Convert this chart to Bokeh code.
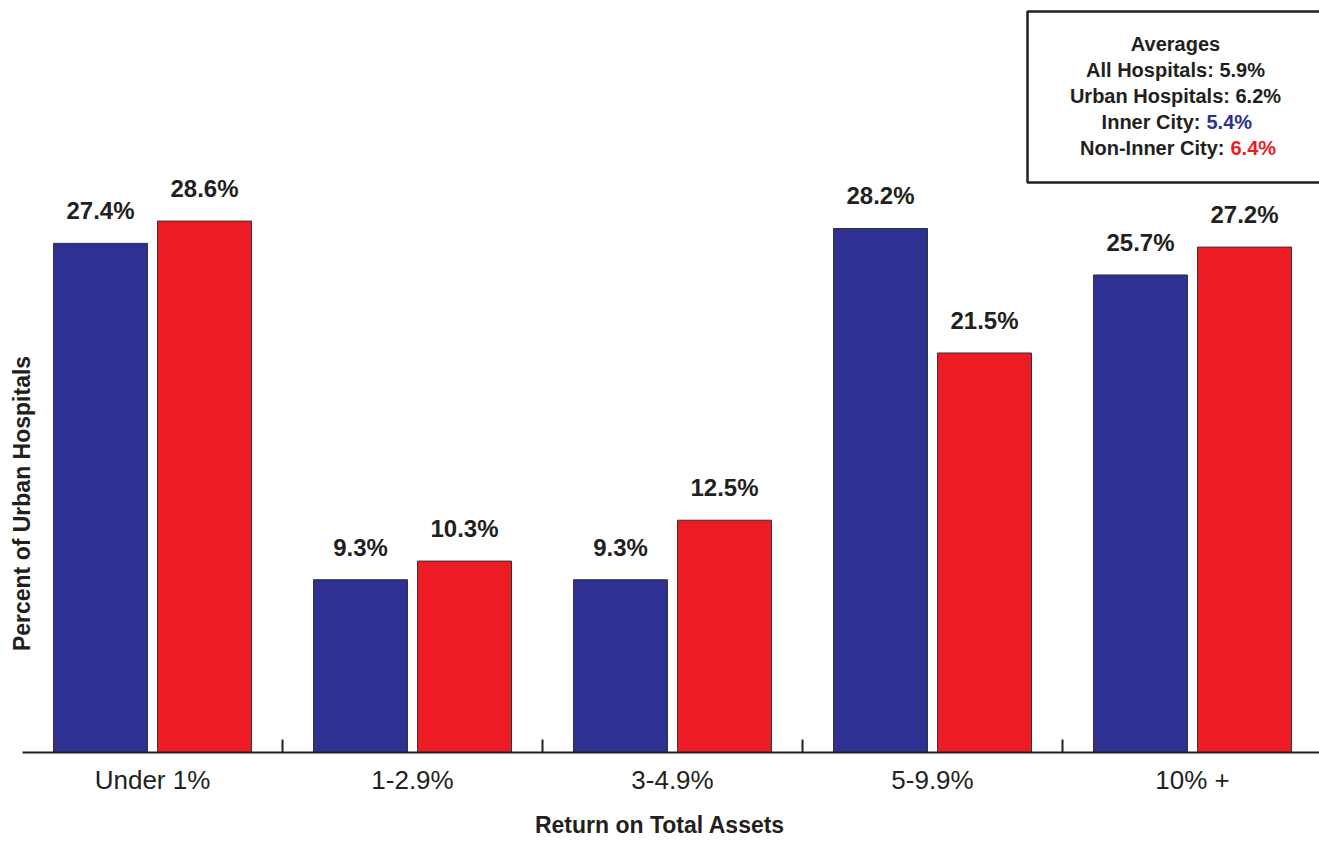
import numpy as np
from bokeh.plotting import figure
from bokeh.models import (ColumnDataSource, Range1d, FixedTicker, LabelSet, Label)
from bokeh.core.properties import value
from bokeh.embed import file_html
from bokeh.resources import INLINE

categories = ["Under 1%", "1-2.9%", "3-4.9%", "5-9.9%", "10% +"]
inner_city = [27.4, 9.3, 9.3, 28.2, 25.7]
non_inner_city = [28.6, 10.3, 12.5, 21.5, 27.2]
avg_title = "Averages"
avg_all = "All Hospitals: 5.9%"
avg_urban = "Urban Hospitals: 6.2%"
avg_inner = ("Inner City:", "5.4%")
avg_non_inner = ("Non-Inner City:", "6.4%")

BLUE = "#2E3192"
RED = "#ED1C24"
INK = "#231F20"
FONT = "Liberation Sans"

X_END = 1297 / 260.0
idx = np.arange(len(categories))
src_b = ColumnDataSource(dict(x=idx + 0.5 - 0.2, top=inner_city,
                              lab=[f"{v:.1f}%" for v in inner_city]))
src_r = ColumnDataSource(dict(x=idx + 0.5 + 0.2, top=non_inner_city,
                              lab=[f"{v:.1f}%" for v in non_inner_city]))

p = figure(width=1319, height=842, output_backend="svg", toolbar_location=None,
           x_range=Range1d(-22 / 260.0, X_END), y_range=Range1d(0, 40.47),
           min_border_left=0, min_border_right=0, min_border_top=0,
           min_border_bottom=90)
p.outline_line_color = None
p.grid.visible = False
p.yaxis.visible = False
p.background_fill_color = "white"
p.border_fill_color = "white"

p.vbar(x="x", top="top", width=0.3615, bottom=0, source=src_b,
       fill_color=BLUE, line_color="#333333", line_width=1)
p.vbar(x="x", top="top", width=0.3615, bottom=0, source=src_r,
       fill_color=RED, line_color="#333333", line_width=1)

for s in (src_b, src_r):
    p.add_layout(LabelSet(x="x", y="top", text="lab", source=s, y_offset=24,
                          text_align="center", text_baseline="alphabetic",
                          text_font=value(FONT), text_font_style="bold",
                          text_font_size="24px", text_color=INK))

ax = p.xaxis[0]
ax.bounds = (0, X_END)
ax.ticker = FixedTicker(ticks=list(idx + 0.5), minor_ticks=list(idx[1:].astype(float)))
ax.major_label_overrides = {float(i + 0.5): c for i, c in enumerate(categories)}
ax.major_tick_in = 0
ax.major_tick_out = 0
ax.minor_tick_in = 13
ax.minor_tick_out = 0
ax.minor_tick_line_color = INK
ax.minor_tick_line_width = 2
ax.axis_line_color = INK
ax.axis_line_width = 2
ax.major_label_text_font = FONT
ax.major_label_text_font_size = "26px"
ax.major_label_text_color = INK
ax.major_label_standoff = 12
ax.axis_label = "Return on Total Assets"
ax.axis_label_text_font = FONT
ax.axis_label_text_font_style = "bold"
ax.axis_label_text_font_size = "23px"
ax.axis_label_text_color = INK
ax.axis_label_standoff = 14

# y-axis title
p.add_layout(Label(x=-1 / 260.0, y=13.4, text="Percent of Urban Hospitals", angle=np.pi / 2,
                   text_align="center", text_baseline="middle",
                   text_font=FONT, text_font_style="bold",
                   text_font_size="23px", text_color=INK))

# averages box
def dx(px):
    return (px - 22) / 260.0

def dy(py):
    return (752 - py) / 18.58

p.quad(left=dx(1027), right=dx(1400), top=dy(11), bottom=dy(182),
       fill_color="white", line_color=INK, line_width=2.5)

def lab(x, y, t, color=INK, align="center"):
    p.add_layout(Label(x=dx(x), y=dy(y), text=t, text_align=align,
                       text_baseline="middle", text_font=FONT,
                       text_font_style="bold", text_font_size="20px",
                       text_color=color))

lab(1175, 44, avg_title)
lab(1175, 70, avg_all)
lab(1175, 96, avg_urban)
lab(1200, 122, avg_inner[0], align="right")
lab(1206, 122, avg_inner[1], color=BLUE, align="left")
lab(1224, 148, avg_non_inner[0], align="right")
lab(1230, 148, avg_non_inner[1], color=RED, align="left")

open("out.html", "w").write(file_html(p, INLINE))
